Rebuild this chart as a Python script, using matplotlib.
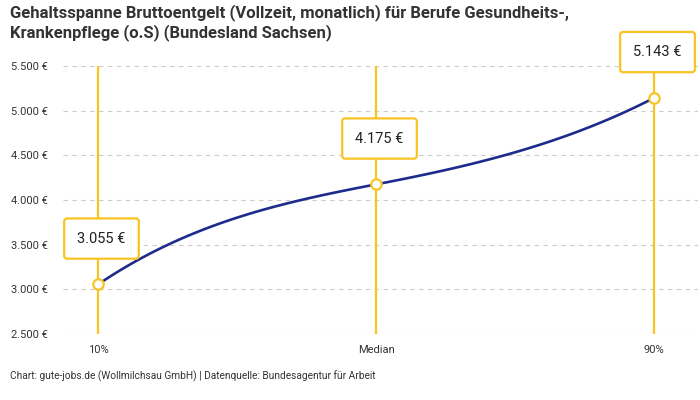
import numpy as np
import matplotlib
matplotlib.use("Agg")
import matplotlib.pyplot as plt
from matplotlib.ticker import FuncFormatter

plt.rcParams['font.family'] = ['Roboto', 'DejaVu Sans']

# ---- data ----
categories = ["10%", "Median", "90%"]
values = [3055, 4175, 5143]
value_labels = ["3.055 €", "4.175 €", "5.143 €"]
y_ticks = [2500, 3000, 3500, 4000, 4500, 5000, 5500]
title = ("Gehaltsspanne Bruttoentgelt (Vollzeit, monatlich) für Berufe Gesundheits-,\n"
         "Krankenpflege (o.S) (Bundesland Sachsen)")
source = "Chart: gute-jobs.de (Wollmilchsau GmbH) | Datenquelle: Bundesagentur für Arbeit"

# curve shape (tangents of the smooth line at each point, style only)
tangents = [2100, 600, 1600]

YELLOW = "#F9C423"
BLUE = "#1D2C8C"
TEXT = "#333333"

W, H = 700, 400
fig = plt.figure(figsize=(W / 100, H / 100), dpi=100)
ax = fig.add_axes([63 / W, (H - 334) / H, (698 - 63) / W, (334 - 66) / H])

x = np.arange(len(categories))

# smooth cubic Hermite line through the points
xs_all, ys_all = [], []
for i in range(len(x) - 1):
    t = np.linspace(0, 1, 60)
    h = x[i + 1] - x[i]
    h00 = 2 * t**3 - 3 * t**2 + 1
    h10 = t**3 - 2 * t**2 + t
    h01 = -2 * t**3 + 3 * t**2
    h11 = t**3 - t**2
    yy = h00 * values[i] + h10 * h * tangents[i] + h01 * values[i + 1] + h11 * h * tangents[i + 1]
    xs_all.append(x[i] + t * h)
    ys_all.append(yy)
xs_all = np.concatenate(xs_all)
ys_all = np.concatenate(ys_all)

for xi in x:
    ax.axvline(xi, color=YELLOW, lw=1.6, zorder=2)

ax.plot(xs_all, ys_all, color=BLUE, lw=1.9, zorder=3, solid_capstyle='round')
ax.plot(x, values, linestyle='none', marker='o', markersize=7.5,
        markerfacecolor='white', markeredgecolor=YELLOW, markeredgewidth=1.6, zorder=4)

for xi, v, lab in zip(x, values, value_labels):
    ax.annotate(lab, xy=(xi, v), xytext=(2.5, 33), textcoords='offset points',
                ha='center', va='center', fontsize=10.5, color="#222222", zorder=5,
                bbox=dict(boxstyle='round,pad=0.9,rounding_size=0.2', fc='white',
                          ec=YELLOW, lw=1.6))

ax.set_ylim(2500, 5500)
ax.set_xlim(-0.126, 2.158)
ax.set_yticks(y_ticks)
ax.yaxis.set_major_formatter(FuncFormatter(lambda v, p: f"{int(v):,} €".replace(",", ".")))
ax.set_xticks(x)
ax.set_xticklabels(categories)
ax.tick_params(axis='both', length=0, labelsize=8, colors=TEXT)
ax.tick_params(axis='y', pad=11)
ax.tick_params(axis='x', pad=8)
ax.grid(axis='y', color='#cccccc', lw=0.8, linestyle=(0, (4, 4)))
ax.set_axisbelow(True)
for s in ax.spines.values():
    s.set_visible(False)

fig.text(10 / W, 1 - 4 / H, title, ha='left', va='top', fontsize=12, fontweight='bold',
         color=TEXT, linespacing=1.25)
fig.text(10 / W, 1 - 376 / H, source, ha='left', va='center', fontsize=7.3, color=TEXT)

fig.savefig("out.png", dpi=100)
